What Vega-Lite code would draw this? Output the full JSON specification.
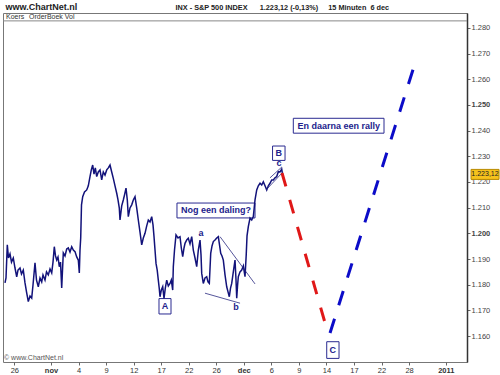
{
 "$schema": "https://vega.github.io/schema/vega-lite/v6.json",
 "width": 464,
 "height": 349,
 "autosize": "none",
 "padding": {"left": 3, "top": 13, "right": 33, "bottom": 13},
 "background": "white",
 "config": {"view": {"stroke": "#777", "strokeWidth": 1}, "font": "Liberation Sans"},
 "datasets": {
  "price": [
   {"d":-1.013,"p":1.1807},{"d":-0.904,"p":1.1826},{"d":-0.763,"p":1.1955},{"d":-0.632,"p":1.1904},{"d":-0.468,"p":1.1920},{"d":-0.305,"p":1.1888},{"d":-0.109,"p":1.1904},{"d":0.076,"p":1.1865},{"d":0.261,"p":1.1831},{"d":0.403,"p":1.1857},{"d":0.621,"p":1.1865},{"d":0.784,"p":1.1842},{"d":0.980,"p":1.1857},{"d":1.166,"p":1.1807},{"d":1.329,"p":1.1772},{"d":1.525,"p":1.1734},{"d":1.710,"p":1.1756},{"d":1.895,"p":1.1748},{"d":2.037,"p":1.1799},{"d":2.255,"p":1.1885},{"d":2.418,"p":1.1818},{"d":2.614,"p":1.1792},{"d":2.800,"p":1.1826},{"d":2.985,"p":1.1811},{"d":3.126,"p":1.1838},{"d":3.344,"p":1.1818},{"d":3.508,"p":1.1850},{"d":3.704,"p":1.1838},{"d":3.889,"p":1.1861},{"d":4.074,"p":1.1846},{"d":4.216,"p":1.1888},{"d":4.357,"p":1.1948},{"d":4.488,"p":1.1912},{"d":4.619,"p":1.1896},{"d":4.760,"p":1.1908},{"d":4.902,"p":1.1870},{"d":5.033,"p":1.1888},{"d":5.163,"p":1.1787},{"d":5.251,"p":1.1857},{"d":5.338,"p":1.1924},{"d":5.523,"p":1.1912},{"d":5.708,"p":1.1939},{"d":5.882,"p":1.1943},{"d":6.068,"p":1.1927},{"d":6.253,"p":1.1948},{"d":6.427,"p":1.1935},{"d":6.612,"p":1.1929},{"d":6.797,"p":1.1908},{"d":6.972,"p":1.1896},{"d":7.081,"p":1.1846},{"d":7.157,"p":1.1935},{"d":7.233,"p":1.1982},{"d":7.320,"p":1.2111},{"d":7.451,"p":1.2143},{"d":7.647,"p":1.2161},{"d":7.887,"p":1.2169},{"d":8.061,"p":1.2185},{"d":8.246,"p":1.2221},{"d":8.388,"p":1.2247},{"d":8.540,"p":1.2266},{"d":8.682,"p":1.2231},{"d":8.824,"p":1.2255},{"d":8.976,"p":1.2221},{"d":9.150,"p":1.2239},{"d":9.336,"p":1.2247},{"d":9.521,"p":1.2208},{"d":9.695,"p":1.2239},{"d":9.880,"p":1.2227},{"d":10.065,"p":1.2247},{"d":10.240,"p":1.2255},{"d":10.425,"p":1.2266},{"d":10.610,"p":1.2239},{"d":10.784,"p":1.2214},{"d":10.969,"p":1.2185},{"d":11.155,"p":1.2156},{"d":11.296,"p":1.2130},{"d":11.438,"p":1.2098},{"d":11.514,"p":1.2052},{"d":11.699,"p":1.2107},{"d":11.874,"p":1.2130},{"d":12.026,"p":1.2153},{"d":12.168,"p":1.2176},{"d":12.309,"p":1.2130},{"d":12.418,"p":1.2065},{"d":12.603,"p":1.2099},{"d":12.789,"p":1.2111},{"d":12.963,"p":1.2130},{"d":13.148,"p":1.2143},{"d":13.333,"p":1.2099},{"d":13.508,"p":1.2052},{"d":13.693,"p":1.2005},{"d":13.878,"p":1.1955},{"d":14.052,"p":1.1982},{"d":14.237,"p":1.2000},{"d":14.423,"p":1.2029},{"d":14.597,"p":1.2052},{"d":14.782,"p":1.2044},{"d":14.967,"p":1.2065},{"d":15.109,"p":1.2033},{"d":15.218,"p":1.1987},{"d":15.327,"p":1.1935},{"d":15.436,"p":1.1883},{"d":15.566,"p":1.1857},{"d":15.686,"p":1.1818},{"d":15.784,"p":1.1787},{"d":15.871,"p":1.1753},{"d":16.013,"p":1.1779},{"d":16.166,"p":1.1792},{"d":16.307,"p":1.1747},{"d":16.449,"p":1.1787},{"d":16.601,"p":1.1818},{"d":16.776,"p":1.1795},{"d":16.961,"p":1.1805},{"d":17.102,"p":1.1818},{"d":17.255,"p":1.1779},{"d":17.320,"p":1.1870},{"d":17.451,"p":1.1935},{"d":17.614,"p":1.1994},{"d":17.832,"p":1.1982},{"d":18.050,"p":1.1987},{"d":18.192,"p":1.1943},{"d":18.344,"p":1.1909},{"d":18.486,"p":1.1943},{"d":18.595,"p":1.1961},{"d":18.780,"p":1.1974},{"d":18.954,"p":1.1981},{"d":19.139,"p":1.1959},{"d":19.325,"p":1.1987},{"d":19.499,"p":1.1935},{"d":19.684,"p":1.1904},{"d":19.869,"p":1.1870},{"d":20.044,"p":1.1935},{"d":20.229,"p":1.1974},{"d":20.338,"p":1.1916},{"d":20.414,"p":1.1844},{"d":20.588,"p":1.1805},{"d":20.773,"p":1.1826},{"d":20.959,"p":1.1831},{"d":21.100,"p":1.1811},{"d":21.242,"p":1.1805},{"d":21.394,"p":1.1922},{"d":21.536,"p":1.1951},{"d":21.678,"p":1.1968},{"d":21.863,"p":1.1974},{"d":22.048,"p":1.1982},{"d":22.222,"p":1.1987},{"d":22.353,"p":1.1955},{"d":22.484,"p":1.1922},{"d":22.625,"p":1.1912},{"d":22.767,"p":1.1896},{"d":22.952,"p":1.1838},{"d":23.137,"p":1.1792},{"d":23.279,"p":1.1772},{"d":23.420,"p":1.1753},{"d":23.551,"p":1.1787},{"d":23.682,"p":1.1805},{"d":23.856,"p":1.1850},{"d":24.041,"p":1.1896},{"d":24.150,"p":1.1818},{"d":24.227,"p":1.1747},{"d":24.314,"p":1.1795},{"d":24.401,"p":1.1831},{"d":24.586,"p":1.1850},{"d":24.771,"p":1.1857},{"d":24.946,"p":1.1873},{"d":25.131,"p":1.1831},{"d":25.261,"p":1.1916},{"d":25.349,"p":1.1990},{"d":25.490,"p":1.2026},{"d":25.675,"p":1.2059},{"d":25.861,"p":1.2052},{"d":26.035,"p":1.2065},{"d":26.133,"p":1.2099},{"d":26.220,"p":1.2130},{"d":26.405,"p":1.2169},{"d":26.580,"p":1.2185},{"d":26.765,"p":1.2195},{"d":26.950,"p":1.2188},{"d":27.124,"p":1.2201},{"d":27.309,"p":1.2185},{"d":27.495,"p":1.2169},{"d":27.669,"p":1.2185},{"d":27.854,"p":1.2195},{"d":28.039,"p":1.2208},{"d":28.214,"p":1.2208},{"d":28.399,"p":1.2216},{"d":28.584,"p":1.2221},{"d":28.758,"p":1.2240},{"d":28.943,"p":1.2239},{"d":29.129,"p":1.2250},{"d":29.216,"p":1.2231}
  ],
  "hdr": [{"d": -1.231, "d2": 49.31, "p": 1.28273}],
  "hdrtxt": [{"d": -0.9, "p": 1.2843, "t": "Koers"}, {"d": 1.6, "p": 1.2843, "t": "OrderBoek Vol"}],
  "copy": [{"d": -1.12, "p": 1.1514, "t": "© www.ChartNet.nl"}],
  "boxes": [
   {"d": 15.76, "d2": 17.07, "p": 1.1746, "p2": 1.1686},
   {"d": 28.13, "d2": 29.49, "p": 1.2340, "p2": 1.2284},
   {"d": 34.03, "d2": 35.37, "p": 1.1578, "p2": 1.1513},
   {"d": 17.72, "d2": 26.22, "p": 1.2118, "p2": 1.2060},
   {"d": 30.39, "d2": 40.27, "p": 1.2448, "p2": 1.2390}
  ],
  "segs": [
   {"d": 22.41, "d2": 26.22, "p": 1.1987, "p2": 1.1803},
   {"d": 20.77, "d2": 24.59, "p": 1.1767, "p2": 1.1728},
   {"d": 27.42, "d2": 29.27, "p": 1.2169, "p2": 1.2239},
   {"d": 27.85, "d2": 29.16, "p": 1.2216, "p2": 1.2259}
  ],
  "red": [{"d": 29.16, "d2": 34.17, "p": 1.2235, "p2": 1.1611}],
  "blue": [{"d": 34.39, "d2": 43.76, "p": 1.1612, "p2": 1.2675}],
  "labels": [
   {"d": 16.41, "p": 1.1716, "t": "A"},
   {"d": 28.81, "p": 1.2312, "t": "B"},
   {"d": 34.70, "p": 1.1546, "t": "C"},
   {"d": 21.97, "p": 1.2089, "t": "Nog een daling?"},
   {"d": 35.33, "p": 1.2419, "t": "En daarna een rally"},
   {"d": 20.34, "p": 1.2003, "t": "a"},
   {"d": 24.15, "p": 1.1714, "t": "b"},
   {"d": 28.83, "p": 1.2274, "t": "c"}
  ],
  "obox": [{"d": 49.75, "d2": 52.8, "p": 1.2249, "p2": 1.2210}],
  "otxt": [{"d": 51.27, "p": 1.22312, "t": "1.223,12"}]
 },
 "encoding": {
  "x": {
   "field": "d", "type": "quantitative",
   "scale": {"domain": [-1.231, 49.31], "nice": false, "zero": false},
   "axis": {
    "orient": "bottom",
    "values": [0, 4, 7, 10, 13, 16, 19, 22, 25, 28, 31, 34, 37, 40, 43, 47],
    "labelExpr": "['26','nov','4','9','12','17','22','26','dec','6','9','14','17','22','28','2011'][indexof([0,4,7,10,13,16,19,22,25,28,31,34,37,40,43,47], datum.value)]",
    "labelFontWeight": {"condition": {"test": "datum.value == 4 || datum.value == 25 || datum.value == 47", "value": "bold"}, "value": "normal"},
    "labelFontSize": 7.5, "labelColor": "#333", "labelPadding": 1, "labelFlush": false, "labelOverlap": false,
    "ticks": true, "tickSize": 3, "tickColor": "#666", "domain": false, "grid": false,
    "title": "INX - S&P 500 INDEX\u00a0\u00a0\u00a0\u00a0\u00a0\u00a01.223,12 (-0,13%)\u00a0\u00a0\u00a0\u00a0\u00a015 Minuten\u00a0\u00a06 dec",
    "titleX": 172, "titleY": -353, "titleAlign": "left", "titleAnchor": "start", "titleBaseline": "alphabetic",
    "titleFontSize": 7.3, "titleFontWeight": "bold", "titleColor": "#222"
   }
  },
  "y": {
   "field": "p", "type": "quantitative",
   "scale": {"domain": [1.1499, 1.2858], "nice": false, "zero": false},
   "axis": {
    "orient": "right",
    "values": [1.16, 1.17, 1.18, 1.19, 1.2, 1.21, 1.22, 1.23, 1.24, 1.25, 1.26, 1.27, 1.28],
    "labelExpr": "format(datum.value, '.3f')",
    "labelFontWeight": {"condition": {"test": "abs(datum.value - 1.25) < 0.000001 || abs(datum.value - 1.2) < 0.000001", "value": "bold"}, "value": "normal"},
    "labelFontSize": 7.5, "labelColor": "#444", "labelPadding": 1,
    "ticks": true, "tickSize": 3, "tickColor": "#666", "domain": true, "domainColor": "#333", "domainWidth": 1.5, "grid": false,
    "title": "www.ChartNet.nl",
    "titleAngle": 0, "titleX": -462, "titleY": -4, "titleAlign": "left", "titleAnchor": "start", "titleBaseline": "alphabetic",
    "titleFontSize": 9, "titleFontWeight": "bold", "titleColor": "#222"
   }
  }
 },
 "layer": [
  {"data": {"name": "hdr"}, "mark": {"type": "rule", "color": "#888", "strokeWidth": 1}, "encoding": {"x2": {"field": "d2"}}},
  {"data": {"name": "hdrtxt"}, "mark": {"type": "text", "align": "left", "baseline": "middle", "fontSize": 7, "color": "#333"}, "encoding": {"text": {"field": "t"}}},
  {"data": {"name": "copy"}, "mark": {"type": "text", "align": "left", "baseline": "middle", "fontSize": 7, "color": "#555"}, "encoding": {"text": {"field": "t"}}},
  {"data": {"name": "boxes"}, "mark": {"type": "rect", "fill": "white", "stroke": "#2a2a90", "strokeWidth": 1}, "encoding": {"x2": {"field": "d2"}, "y2": {"field": "p2"}}},
  {"data": {"name": "price"}, "mark": {"type": "line", "color": "#12127a", "strokeWidth": 1.5}, "encoding": {}},
  {"data": {"name": "segs"}, "mark": {"type": "rule", "color": "#2a2a80", "strokeWidth": 0.8}, "encoding": {"x2": {"field": "d2"}, "y2": {"field": "p2"}}},
  {"data": {"name": "red"}, "mark": {"type": "rule", "color": "#e01818", "strokeWidth": 3, "strokeDash": [14, 14], "strokeCap": "butt"}, "encoding": {"x2": {"field": "d2"}, "y2": {"field": "p2"}}},
  {"data": {"name": "blue"}, "mark": {"type": "rule", "color": "#0c0cc8", "strokeWidth": 3, "strokeDash": [15, 14], "strokeCap": "butt"}, "encoding": {"x2": {"field": "d2"}, "y2": {"field": "p2"}}},
  {"data": {"name": "labels"}, "mark": {"type": "text", "align": "center", "baseline": "middle", "fontSize": 9, "fontWeight": "bold", "color": "#22228c"}, "encoding": {"text": {"field": "t"}}},
  {"data": {"name": "obox"}, "mark": {"type": "rect", "fill": "#f6c21c", "stroke": "#b88a00", "strokeWidth": 1}, "encoding": {"x2": {"field": "d2"}, "y2": {"field": "p2"}}},
  {"data": {"name": "otxt"}, "mark": {"type": "text", "align": "center", "baseline": "middle", "fontSize": 7, "color": "#222"}, "encoding": {"text": {"field": "t"}}}
 ]
}
